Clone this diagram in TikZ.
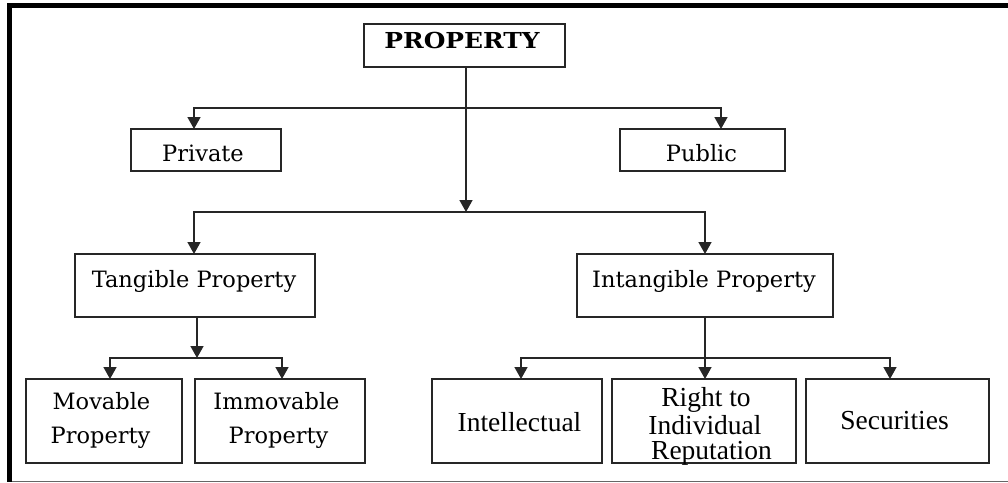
\documentclass[tikz,border=0pt]{standalone}
\usepackage{fontspec}
\setmainfont{DejaVu Serif}
\newfontfamily\tnr{Liberation Serif}
\usetikzlibrary{arrows.meta}
\begin{document}
\begin{tikzpicture}[x=1pt,y=-1pt,
  box/.style={draw=black!85,line width=1.6pt,inner sep=0pt,outer sep=0pt,rectangle},
  conn/.style={draw=black!85,line width=1.6pt,line join=miter},
  arr/.style={conn,-{Triangle[width=13pt,length=12pt]}},
  darr/.style={conn,{Triangle[width=13pt,length=12pt]}-{Triangle[width=13pt,length=12pt]}},
  lbl/.style={anchor=base,inner sep=0pt,font=\fontsize{22.5}{26}\selectfont},
  tlbl/.style={anchor=base,inner sep=0pt,font=\tnr\fontsize{27.5}{27}\selectfont}]
\useasboundingbox (0,0) rectangle (1008,482);
% frame
\fill[black] (7,3) rectangle (12,482);
\fill[black] (7,3) rectangle (1008,8);
\draw[black!60,line width=1pt] (12,481) -- (1008,481);
% boxes
\node[box,minimum width=201pt,minimum height=43pt] (prop) at (464.5,45.5) {};
\node[box,minimum width=150pt,minimum height=42pt] (priv) at (206,150) {};
\node[box,minimum width=165pt,minimum height=42pt] (pub) at (702.5,150) {};
\node[box,minimum width=240pt,minimum height=63pt] (tang) at (195,285.5) {};
\node[box,minimum width=256pt,minimum height=63pt] (intang) at (705,285.5) {};
\node[box,minimum width=156pt,minimum height=84pt] (mov) at (104,421) {};
\node[box,minimum width=170pt,minimum height=84pt] (imm) at (280,421) {};
\node[box,minimum width=170pt,minimum height=84pt] (intel) at (517,421) {};
\node[box,minimum width=184pt,minimum height=84pt] (right) at (704,421) {};
\node[box,minimum width=183pt,minimum height=84pt] (sec) at (897.5,421) {};
% texts
\node[lbl,font=\bfseries\fontsize{22}{26}\selectfont] (tprop) at (462,48) {\scalebox{1.13}[1]{PROPERTY}};
\node[lbl] (tpriv) at (203,161) {Private};
\node[lbl] (tpub) at (701.5,161) {Public};
\node[lbl] (ttang) at (194,287) {Tangible Property};
\node[lbl] (tintang) at (704,287) {Intangible Property};
\node[lbl] (tmov1) at (101.5,409) {Movable};
\node[lbl] (tmov2) at (100.5,443) {Property};
\node[lbl] (timm1) at (276.5,409) {Immovable};
\node[lbl] (timm2) at (278.5,443) {Property};
\node[tlbl] (tintel) at (519.5,431) {Intellectual};
\node[tlbl] (tright1) at (706,406) {Right to};
\node[tlbl] (tright2) at (705,434) {Individual};
\node[tlbl] (tright3) at (711.5,459) {Reputation};
\node[tlbl] (tsec) at (894.5,429) {Securities};
% junctions
\coordinate (j1a) at (194,108);
\coordinate (j1b) at (721,108);
\coordinate (j2) at (466,212);
\coordinate (j2a) at (194,212);
\coordinate (j2b) at (705,212);
\coordinate (j3) at (197,358);
\coordinate (j3a) at (110,358);
\coordinate (j3b) at (282,358);
\coordinate (j4a) at (521,358);
\coordinate (j4b) at (890,358);
% connectors
\draw[arr] (prop.south -| j2) -- (j2);
\draw[darr] (j1a |- priv.north) -- (j1a) -- (j1b) -- (j1b |- pub.north);
\draw[darr] (j2a |- tang.north) -- (j2a) -- (j2b) -- (j2b |- intang.north);
\draw[arr] (tang.south -| j3) -- (j3);
\draw[darr] (j3a |- mov.north) -- (j3a) -- (j3b) -- (j3b |- imm.north);
\draw[arr] (intang.south) -- (intang.south |- right.north);
\draw[darr] (j4a |- intel.north) -- (j4a) -- (j4b) -- (j4b |- sec.north);
\end{tikzpicture}
\end{document}
